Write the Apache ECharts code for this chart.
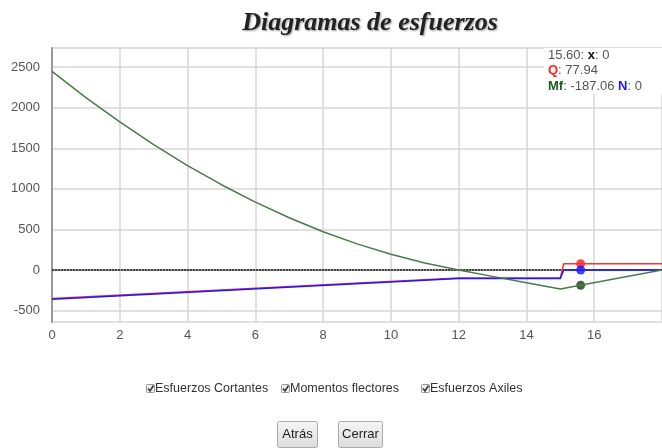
<!DOCTYPE html>
<html>
<head>
<meta charset="utf-8">
<title>Diagramas de esfuerzos</title>
<script src="https://cdn.jsdelivr.net/npm/echarts@6/dist/echarts.min.js"></script>
<style>
  html, body { margin: 0; padding: 0; background: #fff; }
  #chart { width: 662px; height: 448px; }
</style>
</head>
<body>
<div id="chart"></div>
<script>
// posiciones a lo largo de la barra
var xMf = [0, 1, 2, 3, 4, 5, 6, 7, 8, 9, 10, 11, 12, 13, 14, 15, 18];
// momentos flectores
var mf = [2446, 2124, 1824, 1545, 1287, 1051, 837, 644, 472, 322, 194, 87, 0, -78, -156, -234, 0];
// esfuerzos cortantes y axiles
var xQN = [0, 12, 15, 15.1, 18];
var q = [-352, -97, -97, 77.94, 77.94];
var n = [-359, -104, -104, 0, 0];
// eje de la barra
var xViga = [0, 18];
var viga = [0, 0];
// punto seleccionado
var xCursor = 15.6;
var cursorQ = 77.94;
var cursorMf = -187.06;
var cursorN = 0;
var checks = ['Esfuerzos Cortantes', 'Momentos flectores', 'Esfuerzos Axiles'];

function pares(xs, ys) {
  return xs.map(function (x, i) { return [x, ys[i]]; });
}

var chart = echarts.init(document.getElementById('chart'));

var font = 'Liberation Sans, Arial, sans-serif';

// casillas de verificacion debajo del grafico
var checkX = [146, 281, 421];
var graficos = [];
checks.forEach(function (txt, i) {
  graficos.push({
    type: 'rect', silent: true,
    shape: { x: checkX[i] + 0.5, y: 384.5, width: 8, height: 8, r: 1 },
    style: { fill: '#eee', stroke: '#999', lineWidth: 1 }
  });
  graficos.push({
    type: 'polyline', silent: true,
    shape: { points: [[checkX[i] + 2, 388.5], [checkX[i] + 4, 391], [checkX[i] + 7.5, 385.5]] },
    style: { stroke: '#333', lineWidth: 1.5, fill: null }
  });
  graficos.push({
    type: 'text', silent: true,
    style: { text: txt, x: checkX[i] + 9, y: 389, font: '12.5px ' + font, fill: '#333', textVerticalAlign: 'middle' }
  });
});

// botones
[['Atrás', 277, 40], ['Cerrar', 338, 44]].forEach(function (b) {
  graficos.push({
    type: 'rect', silent: true,
    shape: { x: b[1] + 0.5, y: 421.5, width: b[2], height: 26, r: 2 },
    style: {
      stroke: '#aaa', lineWidth: 1,
      fill: new echarts.graphic.LinearGradient(0, 0, 0, 1, [
        { offset: 0, color: '#f6f6f6' }, { offset: 1, color: '#dcdcdc' }
      ])
    }
  });
  graficos.push({
    type: 'text', silent: true,
    style: { text: b[0], x: b[1] + b[2] / 2 + 0.5, y: 434.5, font: '13px ' + font, fill: '#222',
      textAlign: 'center', textVerticalAlign: 'middle' }
  });
});

// titulo
graficos.push({
  type: 'text', silent: true,
  style: {
    text: 'Diagramas de esfuerzos', x: 370, y: 23,
    font: 'italic bold 26px "Liberation Serif", serif', fill: '#222',
    textAlign: 'center', textVerticalAlign: 'middle',
    textShadowColor: 'rgba(0,0,0,0.4)', textShadowBlur: 2, textShadowOffsetX: 1, textShadowOffsetY: 1
  }
});

// cuadro de valores arriba a la derecha
graficos.push({
  type: 'rect', silent: true, z: 10,
  shape: { x: 544, y: 48, width: 118, height: 46 },
  style: { fill: '#fff' }
});
var rich = {
  g: { fontSize: 13, fontFamily: font, fill: '#555' },
  x: { fontSize: 13, fontFamily: font, fill: '#111', fontWeight: 'bold' },
  q: { fontSize: 13, fontFamily: font, fill: '#ff2020', fontWeight: 'bold' },
  m: { fontSize: 13, fontFamily: font, fill: '#1d5a1d', fontWeight: 'bold' },
  n: { fontSize: 13, fontFamily: font, fill: '#1a1aff', fontWeight: 'bold' }
};
var lineas = [
  '{g|' + xCursor.toFixed(2) + ': }{x|x}{g|: 0}',
  '{q|Q}{g|: ' + cursorQ.toFixed(2) + '}',
  '{m|Mf}{g|: ' + cursorMf.toFixed(2) + ' }{n|N}{g|: ' + cursorN + '}'
];
lineas.forEach(function (l, i) {
  graficos.push({
    type: 'text', silent: true, z: 11,
    style: { text: l, rich: rich, x: 548, y: 55 + i * 15.5, textVerticalAlign: 'middle' }
  });
});

var option = {
  animation: false,
  grid: { left: 52, right: 0, top: 48, bottom: 126 },
  xAxis: {
    type: 'value', min: 0, max: 18, interval: 2,
    axisLine: { lineStyle: { color: '#999', width: 2 } },
    axisTick: { show: false },
    axisLabel: { color: '#555', fontSize: 13, fontFamily: font, margin: 7, showMaxLabel: false },
    splitLine: { show: true, lineStyle: { color: '#d6d6d6', width: 1.5 } }
  },
  yAxis: {
    type: 'value', min: -640, max: 2735, splitNumber: 5,
    axisLine: { show: true, lineStyle: { color: '#999', width: 2 } },
    axisTick: { show: false },
    axisLabel: {
      color: '#555', fontSize: 13, fontFamily: font, margin: 12, showMinLabel: false, showMaxLabel: false,
      formatter: function (v) { return String(v); }
    },
    splitLine: { show: true, lineStyle: { color: '#d6d6d6', width: 1.5 } }
  },
  series: [
    {
      name: 'Viga', type: 'line', data: pares(xViga, viga), showSymbol: false,
      lineStyle: { color: '#444', width: 2, type: [2, 1] }
    },
    {
      name: 'Q', type: 'line', data: pares(xQN, q), showSymbol: false,
      lineStyle: { color: '#ff3030', width: 1.5 }
    },
    {
      name: 'N', type: 'line', data: pares(xQN, n), showSymbol: false,
      lineStyle: { color: '#1a1aff', width: 1.5 }
    },
    {
      name: 'Mf', type: 'line', data: pares(xMf, mf), showSymbol: false,
      lineStyle: { color: '#4a7a4a', width: 1.5 }
    },
    {
      name: 'Cursor', type: 'scatter', symbolSize: 9,
      data: [
        { value: [xCursor, cursorQ], itemStyle: { color: '#ff1a1a' } },
        { value: [xCursor, cursorN], itemStyle: { color: '#1010ff' } },
        { value: [xCursor, cursorMf], itemStyle: { color: '#123f12' } }
      ]
    }
  ],
  graphic: graficos
};

chart.setOption(option);
</script>
</body>
</html>
